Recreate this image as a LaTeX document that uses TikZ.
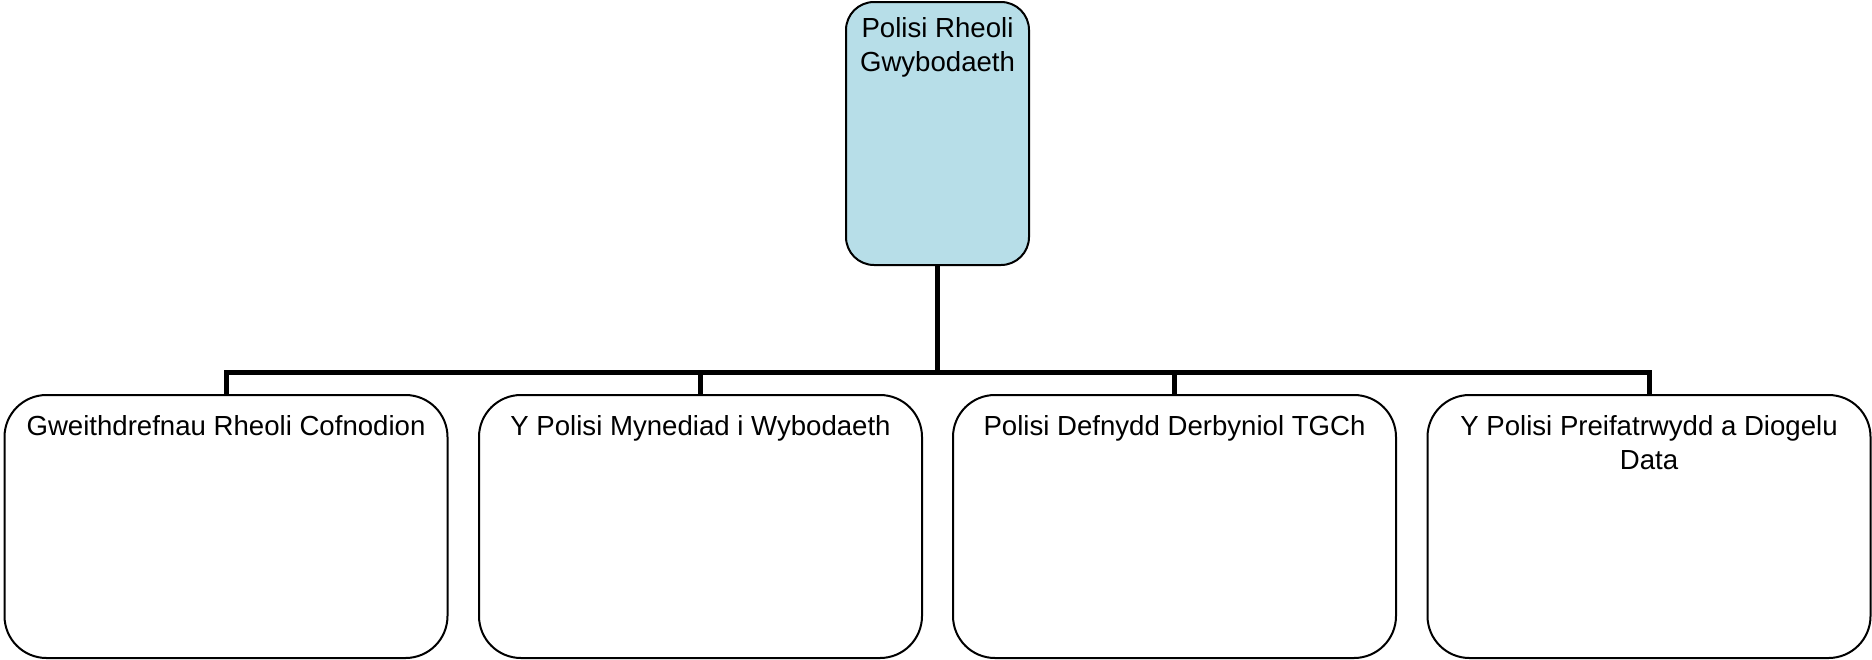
\documentclass[tikz,border=0pt]{standalone}
\usepackage{fontspec}
\setmainfont{Liberation Sans}
\usetikzlibrary{positioning}
\definecolor{rootfill}{HTML}{B7DEE8}

\begin{document}
\begin{tikzpicture}[x=.5pt,y=.5pt,
  box/.style={draw=black,line width=1pt,minimum width=221.5pt,minimum height=131.5pt,rounded corners=21pt,inner sep=0pt},
  lbl/.style={font=\fontsize{13.8}{17}\selectfont,align=center,inner sep=0pt,anchor=base},
  link/.style={line width=2.5pt}]
\useasboundingbox (0,0) rectangle (1872,-659);
\node[box,fill=rootfill,minimum width=91.5pt,rounded corners=14pt] (root) at (937.5,-133.5) {};
\node[lbl] (root-t) at (937.5,-71) {Polisi Rheoli\\Gwybodaeth};
\foreach \n/\x/\y/\t in {1/226/-435/Gweithdrefnau Rheoli Cofnodion,2/700.5/-435/Y Polisi Mynediad i Wybodaeth,3/1174.5/-435/Polisi Defnydd Derbyniol TGCh,4/1649/-469/{Y Polisi Preifatrwydd a Diogelu\\Data}}{
  \node[box] (c\n) at (\x,-526.5) {};
  \node[lbl] (c\n-t) at (\x,\y) {\t};
}
\coordinate (bus) at (937.5,-372);
\draw[link] (root.south) -- (bus);
\draw[link] (c1.north) |- (bus) -| (c4.north);
\draw[link] (c2.north) -- (c2.north |- bus) (c3.north) -- (c3.north |- bus);
\end{tikzpicture}
\end{document}
